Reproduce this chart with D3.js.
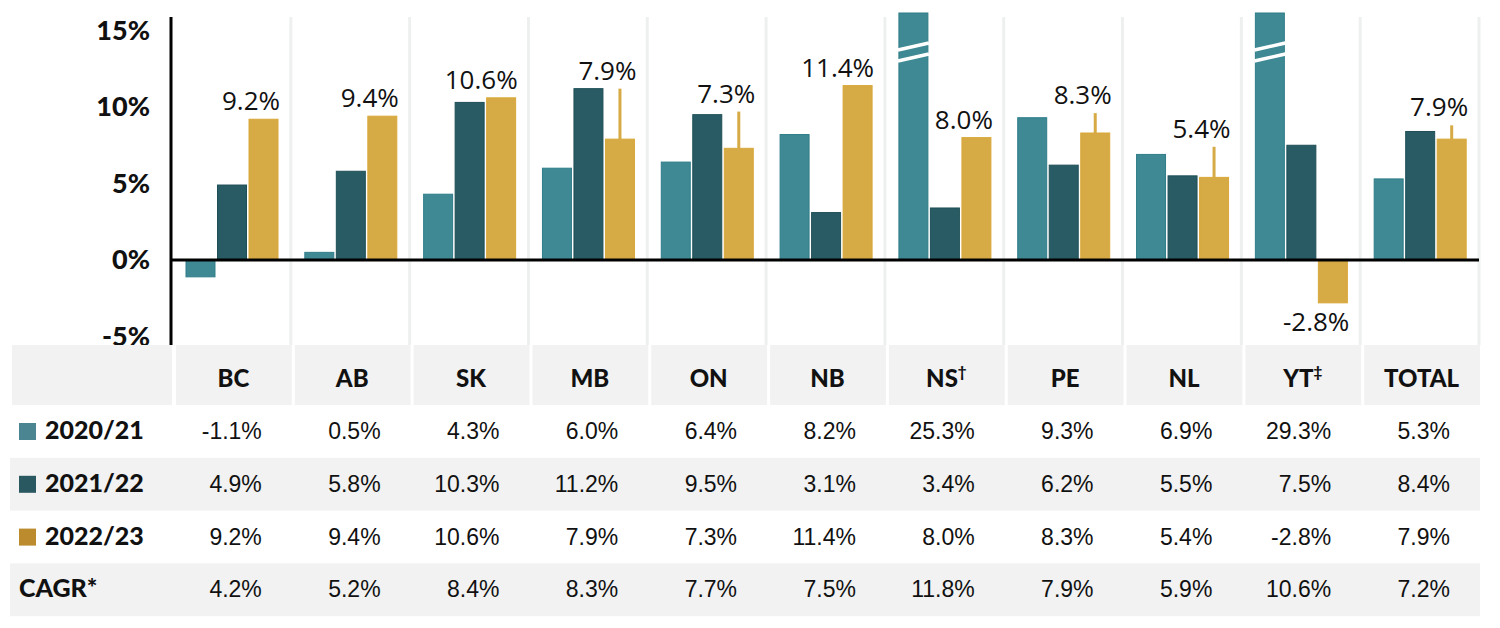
<!DOCTYPE html>
<html>
<head>
<meta charset="utf-8">
<script src="https://cdnjs.cloudflare.com/ajax/libs/d3/7.8.5/d3.min.js"></script>
<style>
  body { margin: 0; background: #fff; }
  .tick text { font-family: Lato, Roboto, sans-serif; font-weight: 900; font-size: 27px; fill: #111; }
</style>
</head>
<body>
<svg width="1500" height="628"></svg>
<script>
// chart data
var categories = ['BC', 'AB', 'SK', 'MB', 'ON', 'NB', 'NS', 'PE', 'NL', 'YT', 'TOTAL'];
var headerMarks = ['', '', '', '', '', '', '\u2020', '', '', '\u2021', ''];
var years = ['2020/21', '2021/22', '2022/23'];
var y2021 = [-1.1, 0.5, 4.3, 6.0, 6.4, 8.2, 25.3, 9.3, 6.9, 29.3, 5.3];
var y2122 = [4.9, 5.8, 10.3, 11.2, 9.5, 3.1, 3.4, 6.2, 5.5, 7.5, 8.4];
var y2223 = [9.2, 9.4, 10.6, 7.9, 7.3, 11.4, 8.0, 8.3, 5.4, -2.8, 7.9];
var cagr = [4.2, 5.2, 8.4, 8.3, 7.7, 7.5, 11.8, 7.9, 5.9, 10.6, 7.2];
var whiskerTop = [null, null, null, 11.2, 9.7, null, null, 9.6, 7.4, null, 8.8];
var yTicks = [-5, 0, 5, 10, 15];

var series = [y2021, y2122, y2223];
var barColors = ['#3e8994', '#285b63', '#d6aa45'];
var barStroke = ['#2f7d89', '#1f4f57', '#d9a83a'];
var swatchColors = ['#4a8591', '#2a5860', '#bb8b2d'];
var boldFont = 'Lato, Roboto, sans-serif';

var svg = d3.select('svg');
svg.append('rect').attr('width', 1500).attr('height', 628).attr('fill', '#fff');

var x = d3.scaleBand().domain(categories).range([172, 1479]);
var xs = d3.scaleBand().domain([0, 1, 2]).range([14, 106]).paddingInner(0.08);
var y = d3.scaleLinear().domain([-5, 15]).range([336.5, 30.5]);
var clipTop = 13;
var bw = x.bandwidth();

function pct(v) { return v.toFixed(1) + '%'; }

// light column separators
svg.append('g').selectAll('line')
  .data(categories)
  .enter().append('line')
  .attr('x1', function(d) { return x(d) + bw; })
  .attr('x2', function(d) { return x(d) + bw; })
  .attr('y1', 17).attr('y2', 345)
  .attr('stroke', '#eef0f0').attr('stroke-width', 3);

// bars
series.forEach(function(vals, i) {
  var g = svg.append('g');
  g.selectAll('rect')
    .data(vals)
    .enter().append('rect')
    .attr('x', function(d, j) { return x(categories[j]) + xs(i); })
    .attr('width', xs.bandwidth())
    .attr('y', function(d) { return Math.max(y(Math.max(d, 0)), clipTop); })
    .attr('height', function(d) { return y(Math.min(d, 0)) - Math.max(y(Math.max(d, 0)), clipTop); })
    .attr('fill', barColors[i])
    .attr('stroke', barStroke[i]).attr('stroke-width', 1);

  // break marks for bars that run off the top
  vals.forEach(function(d, j) {
    if (y(d) >= clipTop) return;
    var bx = x(categories[j]) + xs(i);
    [0, 11].forEach(function(off) {
      g.append('line')
        .attr('x1', bx - 1).attr('y1', 50 + off)
        .attr('x2', bx + xs.bandwidth() + 1).attr('y2', 43 + off)
        .attr('stroke', '#fff').attr('stroke-width', 3.5);
    });
  });
});

// thin lines on top of latest year bars
var wg = svg.append('g');
whiskerTop.forEach(function(t, j) {
  if (t === null) return;
  var cx = x(categories[j]) + xs(2) + xs.bandwidth() / 2;
  wg.append('line')
    .attr('x1', cx).attr('x2', cx)
    .attr('y1', y(y2223[j])).attr('y2', y(t))
    .attr('stroke', '#d6aa45').attr('stroke-width', 3);
});

// value labels on latest year
svg.append('g').selectAll('text')
  .data(y2223)
  .enter().append('text')
  .attr('x', function(d, j) { return x(categories[j]) + xs(2) + xs.bandwidth() + 2; })
  .attr('y', function(d, j) {
    if (d < 0) return y(d) + 28;
    var top = whiskerTop[j] !== null ? whiskerTop[j] : d;
    return y(top) - 9;
  })
  .attr('text-anchor', 'end')
  .attr('font-family', '"Open Sans", sans-serif')
  .attr('font-size', 26)
  .attr('fill', '#111')
  .text(pct);

// y axis
var axis = svg.append('g')
  .attr('transform', 'translate(171,0)')
  .call(d3.axisLeft(y).tickValues(yTicks).tickFormat(function(d) { return d + '%'; }).tickSize(0).tickPadding(21));
axis.select('.domain').remove();

svg.append('line')
  .attr('x1', 171).attr('x2', 171).attr('y1', 17).attr('y2', 345)
  .attr('stroke', '#000').attr('stroke-width', 3);
svg.append('line')
  .attr('x1', 171).attr('x2', 1479).attr('y1', y(0)).attr('y2', y(0))
  .attr('stroke', '#000').attr('stroke-width', 3);

// table
var table = svg.append('g');
var headTop = 345, headH = 60, rowTop = 405, rowH = 52.8;

table.append('rect').attr('x', 12).attr('y', headTop).attr('width', 160).attr('height', headH).attr('fill', '#f1f2f1');
table.selectAll('rect.head')
  .data(categories)
  .enter().append('rect')
  .attr('class', 'head')
  .attr('x', function(d) { return x(d) + 4; })
  .attr('y', headTop)
  .attr('width', bw - 3)
  .attr('height', headH)
  .attr('fill', '#f1f2f1');

var ht = table.selectAll('text.head')
  .data(categories)
  .enter().append('text')
  .attr('class', 'head')
  .attr('x', function(d) { return x(d) + bw / 2 + 2; })
  .attr('y', 387)
  .attr('text-anchor', 'middle')
  .attr('font-family', boldFont)
  .attr('font-weight', 900)
  .attr('font-size', 24)
  .attr('fill', '#111');
ht.append('tspan').text(function(d) { return d; });
ht.append('tspan')
  .attr('dy', -10)
  .attr('font-size', 15)
  .text(function(d, j) { return headerMarks[j]; });

var rowLabels = years.concat(['CAGR*']);
var rowData = series.concat([cagr]);

rowData.forEach(function(vals, r) {
  var top = rowTop + r * rowH;
  if (r % 2 === 1) {
    table.append('rect').attr('x', 10).attr('y', top).attr('width', 1470).attr('height', rowH).attr('fill', '#f1f2f1');
  }
  var lx = 19;
  if (r < 3) {
    table.append('rect').attr('x', 19).attr('y', top + 18).attr('width', 17).attr('height', 17)
      .attr('fill', swatchColors[r]);
    lx = 45;
  }
  table.append('text')
    .attr('x', lx).attr('y', top + 34)
    .attr('font-family', boldFont)
    .attr('font-weight', 900)
    .attr('font-size', 25)
    .attr('fill', '#111')
    .text(rowLabels[r]);

  table.append('g').selectAll('text')
    .data(vals)
    .enter().append('text')
    .attr('x', function(d, j) { return x(categories[j]) + bw - 29; })
    .attr('y', top + 34)
    .attr('text-anchor', 'end')
    .attr('font-family', '"Liberation Sans Narrow", "Arial Narrow", sans-serif')
    .attr('font-stretch', 'condensed')
    .attr('font-size', 23)
    .attr('fill', '#111')
    .text(pct);
});
</script>
</body>
</html>
